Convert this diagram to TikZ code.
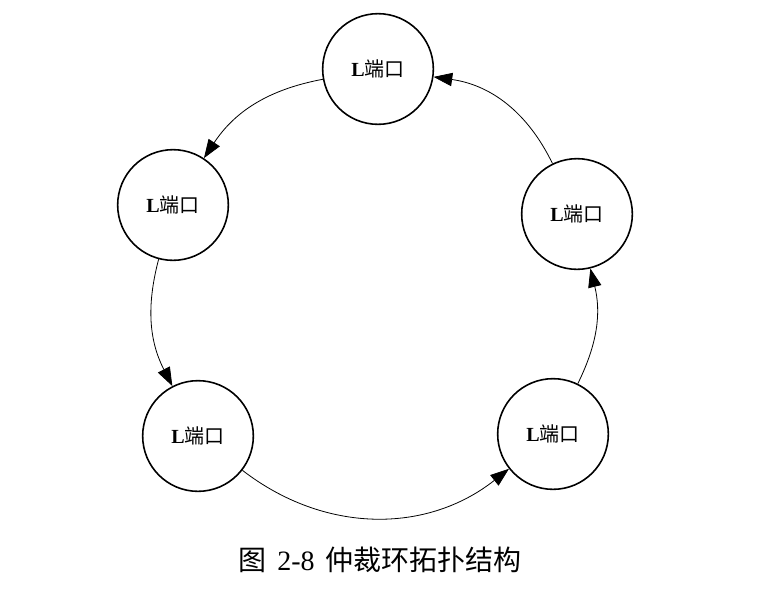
\documentclass[tikz,border=0pt]{standalone}
\usepackage{fontspec}
\setmainfont{Liberation Serif}
\newfontfamily\cjk{Noto Sans CJK SC}
\usetikzlibrary{arrows.meta}
\tikzset{port/.style={circle,draw=black,line width=1.2pt,minimum size=83pt,inner sep=0pt,font=\fontsize{15pt}{17pt}\selectfont},link/.style={-{Triangle[length=14pt,width=10pt]},line width=.6pt,draw=black},caption/.style={font=\fontsize{21pt}{25pt}\selectfont}}
\newcommand{\portname}{\textbf{L}{\cjk 端口}}

\begin{document}
\begin{tikzpicture}[x=.75pt,y=-.75pt]
\useasboundingbox (0,0) rectangle (766,593);
\node[port] (top) at (378,69) {\portname};
\node[port] (upleft) at (173,205) {\portname};
\node[port] (lowleft) at (198,436) {\portname};
\node[port] (lowright) at (553,434) {\portname};
\node[port] (upright) at (577,214) {\portname};
\node[caption] (cap) at (380,560) {{\cjk 图}\hspace{.4em}2-8\hspace{.4em}{\cjk 仲裁环拓扑结构}};
\draw[link] (top) to[bend right=23] (upleft);
\draw[link] (upleft) to[bend right=21] (lowleft);
\draw[link] (lowleft) to[bend right=38] (lowright);
\draw[link] (lowright) to[bend right=20] (upright);
\draw[link] (upright) to[bend right=28] (top);
\end{tikzpicture}
\end{document}
